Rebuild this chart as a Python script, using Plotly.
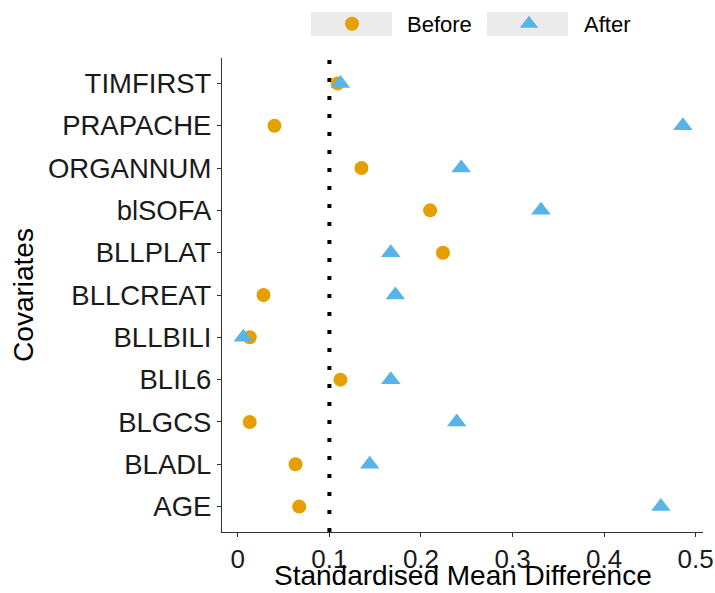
import plotly.graph_objects as go

covariates = ["AGE", "BLADL", "BLGCS", "BLIL6", "BLLBILI", "BLLCREAT",
              "BLLPLAT", "blSOFA", "ORGANNUM", "PRAPACHE", "TIMFIRST"]
before = [0.067, 0.063, 0.013, 0.112, 0.013, 0.028,
          0.224, 0.210, 0.135, 0.040, 0.109]
after = [0.462, 0.144, 0.239, 0.167, 0.006, 0.172,
         0.167, 0.331, 0.244, 0.486, 0.112]
x_ticks = [0, 0.1, 0.2, 0.3, 0.4, 0.5]
x_tick_labels = ["0", "0.1", "0.2", "0.3", "0.4", "0.5"]
threshold = 0.1
x_title = "Standardised Mean Difference"
y_title = "Covariates"

FONT = "Liberation Sans, Arial, sans-serif"
W, H = 715, 593

fig = go.Figure()
fig.add_trace(go.Scatter(
    x=before, y=covariates, mode="markers", name="Before",
    marker=dict(symbol="circle", size=14, color="#E69F00", line=dict(width=0)),
))
fig.add_trace(go.Scatter(
    x=after, y=covariates, mode="markers", name="After",
    marker=dict(symbol="triangle-up", size=17, color="#56B4E9", line=dict(width=0)),
))

fig.add_shape(type="line", xref="x", yref="y domain", x0=threshold, x1=threshold,
              y0=0, y1=1, line=dict(color="black", width=4, dash="4px,14px"),
              layer="below")

# grey legend key backgrounds (ggplot style)
L, R, T, B = 222, 703, 58, 532
def px2x(p):
    return (p - L) / (R - L)
def px2y(p):
    return (B - p) / (B - T)
for x0, x1 in [(311, 392), (487, 568)]:
    fig.add_shape(type="rect", xref="paper", yref="paper",
                  x0=px2x(x0), x1=px2x(x1), y0=px2y(36), y1=px2y(12),
                  fillcolor="#EBEBEB", line=dict(width=0), layer="below")

fig.add_annotation(text=x_title, xref="paper", yref="paper",
                   x=0.5, y=px2y(593), xanchor="center", yanchor="bottom",
                   showarrow=False, font=dict(size=28, color="black"))

fig.update_layout(
    width=W, height=H,
    margin=dict(l=L, r=W - R, t=T, b=H - B, autoexpand=False),
    paper_bgcolor="white", plot_bgcolor="white",
    font=dict(family=FONT, color="black"),
    showlegend=True,
    legend=dict(orientation="h", xref="container", yref="container",
                x=297 / W, xanchor="left",
                y=1 - 24 / H, yanchor="middle", itemwidth=100,
                entrywidth=62, entrywidthmode="pixels",
                font=dict(size=22, color="black"), bgcolor="rgba(0,0,0,0)",
                traceorder="normal", itemclick=False),
    xaxis=dict(
        range=[-0.0173, 0.508], tickvals=x_ticks, ticktext=x_tick_labels,
        showgrid=False, zeroline=False, showline=True, linecolor="#333333",
        linewidth=1.2, ticks="outside", ticklen=4, tickcolor="#333333",
        tickfont=dict(size=26, color="#1a1a1a"), automargin=False,
    ),
    yaxis=dict(
        type="category", categoryorder="array", categoryarray=covariates,
        range=[-0.6, len(covariates) - 0.4],
        showgrid=False, zeroline=False, showline=True, linecolor="#333333",
        linewidth=1.2, ticks="outside", ticklen=4, tickcolor="#333333",
        tickfont=dict(size=27.5, color="#1a1a1a"), automargin=False,
        title=dict(text=y_title, font=dict(size=28), standoff=6),
    ),
)

fig.write_html("out.html")
